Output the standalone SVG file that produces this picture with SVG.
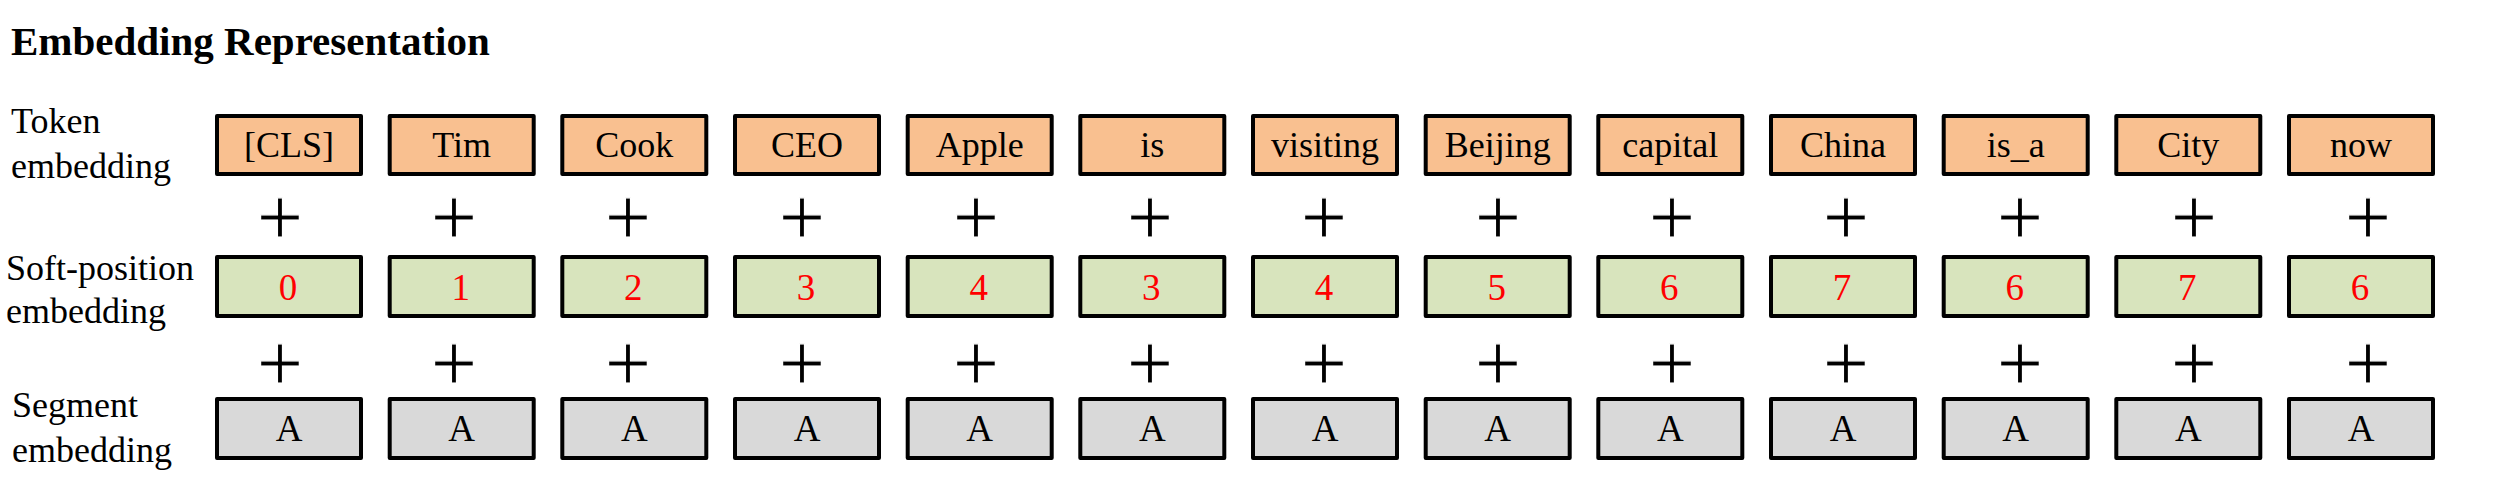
<svg xmlns="http://www.w3.org/2000/svg" width="2499" height="478" viewBox="0 0 2499 478">
<style>
text{font-family:"Liberation Serif","Times New Roman",serif;fill:#000}
.title{font-size:41px;font-weight:bold}
.lbl{font-size:36px}
.tx{font-size:36px;text-anchor:middle}
.num{font-size:37px;text-anchor:middle;fill:#FF0000}
.seg-t{font-size:37px;text-anchor:middle}
.plus{font-family:"DejaVu Sans",sans-serif;font-size:62px;text-anchor:middle;stroke:#fff;stroke-width:1.2px}
.box{stroke:#000;stroke-width:4;stroke-linejoin:round}
.tok{fill:#F9C090}
.pos{fill:#D8E4BD}
.seg{fill:#D9D9D9}
</style>
<text class="title" x="11" y="55">Embedding Representation</text>
<g id="row-labels">
<text class="lbl" x="11" y="133">Token</text>
<text class="lbl" x="11" y="178">embedding</text>
<text class="lbl" x="6" y="280">Soft-position</text>
<text class="lbl" x="6" y="323">embedding</text>
<text class="lbl" x="12" y="417">Segment</text>
<text class="lbl" x="12" y="462">embedding</text>
</g>
<g id="tokens">
<g id="tok0"><rect class="box tok" x="217" y="116" width="144" height="58"/><text class="tx" x="289" y="157">[CLS]</text></g>
<g id="tok1"><rect class="box tok" x="389.7" y="116" width="144" height="58"/><text class="tx" x="461.7" y="157">Tim</text></g>
<g id="tok2"><rect class="box tok" x="562.3" y="116" width="144" height="58"/><text class="tx" x="634.3" y="157">Cook</text></g>
<g id="tok3"><rect class="box tok" x="735" y="116" width="144" height="58"/><text class="tx" x="807" y="157">CEO</text></g>
<g id="tok4"><rect class="box tok" x="907.7" y="116" width="144" height="58"/><text class="tx" x="979.7" y="157">Apple</text></g>
<g id="tok5"><rect class="box tok" x="1080.3" y="116" width="144" height="58"/><text class="tx" x="1152.3" y="157">is</text></g>
<g id="tok6"><rect class="box tok" x="1253" y="116" width="144" height="58"/><text class="tx" x="1325" y="157">visiting</text></g>
<g id="tok7"><rect class="box tok" x="1425.7" y="116" width="144" height="58"/><text class="tx" x="1497.7" y="157">Beijing</text></g>
<g id="tok8"><rect class="box tok" x="1598.3" y="116" width="144" height="58"/><text class="tx" x="1670.3" y="157">capital</text></g>
<g id="tok9"><rect class="box tok" x="1771" y="116" width="144" height="58"/><text class="tx" x="1843" y="157">China</text></g>
<g id="tok10"><rect class="box tok" x="1943.7" y="116" width="144" height="58"/><text class="tx" x="2015.7" y="157">is_a</text></g>
<g id="tok11"><rect class="box tok" x="2116.3" y="116" width="144" height="58"/><text class="tx" x="2188.3" y="157">City</text></g>
<g id="tok12"><rect class="box tok" x="2289" y="116" width="144" height="58"/><text class="tx" x="2361" y="157">now</text></g>
</g>
<g id="positions">
<g id="pos0"><rect class="box pos" x="217" y="257" width="144" height="59"/><text class="num" x="288" y="300">0</text></g>
<g id="pos1"><rect class="box pos" x="389.7" y="257" width="144" height="59"/><text class="num" x="460.7" y="300">1</text></g>
<g id="pos2"><rect class="box pos" x="562.3" y="257" width="144" height="59"/><text class="num" x="633.3" y="300">2</text></g>
<g id="pos3"><rect class="box pos" x="735" y="257" width="144" height="59"/><text class="num" x="806" y="300">3</text></g>
<g id="pos4"><rect class="box pos" x="907.7" y="257" width="144" height="59"/><text class="num" x="978.7" y="300">4</text></g>
<g id="pos5"><rect class="box pos" x="1080.3" y="257" width="144" height="59"/><text class="num" x="1151.3" y="300">3</text></g>
<g id="pos6"><rect class="box pos" x="1253" y="257" width="144" height="59"/><text class="num" x="1324" y="300">4</text></g>
<g id="pos7"><rect class="box pos" x="1425.7" y="257" width="144" height="59"/><text class="num" x="1496.7" y="300">5</text></g>
<g id="pos8"><rect class="box pos" x="1598.3" y="257" width="144" height="59"/><text class="num" x="1669.3" y="300">6</text></g>
<g id="pos9"><rect class="box pos" x="1771" y="257" width="144" height="59"/><text class="num" x="1842" y="300">7</text></g>
<g id="pos10"><rect class="box pos" x="1943.7" y="257" width="144" height="59"/><text class="num" x="2014.7" y="300">6</text></g>
<g id="pos11"><rect class="box pos" x="2116.3" y="257" width="144" height="59"/><text class="num" x="2187.3" y="300">7</text></g>
<g id="pos12"><rect class="box pos" x="2289" y="257" width="144" height="59"/><text class="num" x="2360" y="300">6</text></g>
</g>
<g id="segments">
<g id="seg0"><rect class="box seg" x="217" y="399" width="144" height="59"/><text class="seg-t" x="289" y="441">A</text></g>
<g id="seg1"><rect class="box seg" x="389.7" y="399" width="144" height="59"/><text class="seg-t" x="461.7" y="441">A</text></g>
<g id="seg2"><rect class="box seg" x="562.3" y="399" width="144" height="59"/><text class="seg-t" x="634.3" y="441">A</text></g>
<g id="seg3"><rect class="box seg" x="735" y="399" width="144" height="59"/><text class="seg-t" x="807" y="441">A</text></g>
<g id="seg4"><rect class="box seg" x="907.7" y="399" width="144" height="59"/><text class="seg-t" x="979.7" y="441">A</text></g>
<g id="seg5"><rect class="box seg" x="1080.3" y="399" width="144" height="59"/><text class="seg-t" x="1152.3" y="441">A</text></g>
<g id="seg6"><rect class="box seg" x="1253" y="399" width="144" height="59"/><text class="seg-t" x="1325" y="441">A</text></g>
<g id="seg7"><rect class="box seg" x="1425.7" y="399" width="144" height="59"/><text class="seg-t" x="1497.7" y="441">A</text></g>
<g id="seg8"><rect class="box seg" x="1598.3" y="399" width="144" height="59"/><text class="seg-t" x="1670.3" y="441">A</text></g>
<g id="seg9"><rect class="box seg" x="1771" y="399" width="144" height="59"/><text class="seg-t" x="1843" y="441">A</text></g>
<g id="seg10"><rect class="box seg" x="1943.7" y="399" width="144" height="59"/><text class="seg-t" x="2015.7" y="441">A</text></g>
<g id="seg11"><rect class="box seg" x="2116.3" y="399" width="144" height="59"/><text class="seg-t" x="2188.3" y="441">A</text></g>
<g id="seg12"><rect class="box seg" x="2289" y="399" width="144" height="59"/><text class="seg-t" x="2361" y="441">A</text></g>
</g>
<g id="plus-row1">
<text class="plus" x="280" y="237">+</text><text class="plus" x="454" y="237">+</text><text class="plus" x="628" y="237">+</text><text class="plus" x="802" y="237">+</text><text class="plus" x="976" y="237">+</text><text class="plus" x="1150" y="237">+</text><text class="plus" x="1324" y="237">+</text><text class="plus" x="1498" y="237">+</text><text class="plus" x="1672" y="237">+</text><text class="plus" x="1846" y="237">+</text><text class="plus" x="2020" y="237">+</text><text class="plus" x="2194" y="237">+</text><text class="plus" x="2368" y="237">+</text>
</g>
<g id="plus-row2">
<text class="plus" x="280" y="383">+</text><text class="plus" x="454" y="383">+</text><text class="plus" x="628" y="383">+</text><text class="plus" x="802" y="383">+</text><text class="plus" x="976" y="383">+</text><text class="plus" x="1150" y="383">+</text><text class="plus" x="1324" y="383">+</text><text class="plus" x="1498" y="383">+</text><text class="plus" x="1672" y="383">+</text><text class="plus" x="1846" y="383">+</text><text class="plus" x="2020" y="383">+</text><text class="plus" x="2194" y="383">+</text><text class="plus" x="2368" y="383">+</text>
</g>
<g id="connectors"/>
</svg>
